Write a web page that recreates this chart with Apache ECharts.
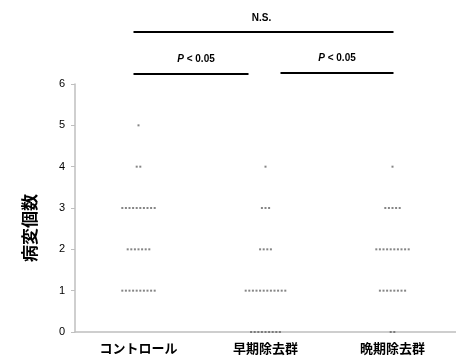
<!DOCTYPE html>
<html><head><meta charset="utf-8">
<script src="https://cdn.jsdelivr.net/npm/echarts@6/dist/echarts.min.js"></script>
<style>html,body{margin:0;padding:0;background:#fff}#c{width:456px;height:357px}</style>
</head><body><div id="c"></div>
<script>
var categories = ['コントロール', '早期除去群', '晩期除去群'];
var yTicks = [0, 1, 2, 3, 4, 5, 6];
var yName = '病変個数';
// number of subjects at each lesion count (0..5) for each group
var countsControl = [0, 10, 7, 10, 2, 1];
var countsEarly   = [9, 12, 4, 3, 1, 0];
var countsLate    = [2, 8, 10, 5, 1, 0];
var groups = [countsControl, countsEarly, countsLate];
var sigLabels = ['N.S.', 'P', 'P'];

var dotStep = 3.6;
var data = [];
groups.forEach(function (counts, gi) {
  counts.forEach(function (n, lesion) {
    for (var i = 0; i < n; i++) {
      data.push({ value: [gi, lesion], symbolOffset: [(i - (n - 1) / 2) * dotStep, 0] });
    }
  });
});

var chart = echarts.init(document.getElementById('c'));
var font = '"Noto Sans CJK JP", "Noto Sans", sans-serif';
chart.setOption({
  animation: false,
  grid: { left: 75, right: -4, top: 84, bottom: 25 },
  xAxis: {
    type: 'category', data: categories,
    axisLine: { lineStyle: { color: '#bfbfbf', width: 1.5 } },
    axisTick: { show: false },
    axisLabel: { color: '#000', fontWeight: 'bold', fontSize: 13, fontFamily: font, margin: 10 }
  },
  yAxis: {
    type: 'value', min: yTicks[0], max: yTicks[yTicks.length - 1], interval: 1,
    splitLine: { show: false },
    axisLine: { show: true, lineStyle: { color: '#bfbfbf', width: 1.5 } },
    axisTick: { show: true, length: 4, lineStyle: { color: '#bfbfbf' } },
    axisLabel: { color: '#000', fontSize: 11, fontFamily: 'Liberation Sans, sans-serif', margin: 10 }
  },
  series: [{
    type: 'scatter', data: data, symbol: 'rect', symbolSize: 2,
    itemStyle: { color: '#666' }
  }]
});

function px(ci) { return chart.convertToPixel({ xAxisIndex: 0 }, categories[ci]); }
var x0 = px(0), x1 = px(1), x2 = px(2);
var lineStyle = { stroke: '#000', lineWidth: 2 };
var pFont = 'italic bold 10px "Liberation Sans", sans-serif';
var tFont = 'bold 10px "Liberation Sans", sans-serif';
chart.setOption({
  graphic: [
    { type: 'text', x: 30, y: 228, rotation: Math.PI / 2, style: { text: yName, font: 'bold 17px "Noto Sans CJK JP", sans-serif', fill: '#000', textAlign: 'center', textVerticalAlign: 'middle' } },
    { type: 'line', shape: { x1: x0 - 5, y1: 32, x2: x2 + 1, y2: 32 }, style: lineStyle },
    { type: 'text', x: (x0 + x2) / 2 - 4, y: 18, style: { text: sigLabels[0], font: tFont, fill: '#000', textAlign: 'center', textVerticalAlign: 'middle' } },
    { type: 'line', shape: { x1: x0 - 5, y1: 74, x2: x1 - 17, y2: 74 }, style: lineStyle },
    { type: 'line', shape: { x1: x1 + 15, y1: 73, x2: x2 + 1, y2: 73 }, style: lineStyle },
    { type: 'text', x: (x0 + x1) / 2 - 6, y: 59, style: { rich: { p: { font: pFont }, t: { font: tFont } }, text: '{p|' + sigLabels[1] + '}{t| < 0.05}', fill: '#000', textAlign: 'center', textVerticalAlign: 'middle' } },
    { type: 'text', x: (x1 + x2) / 2 + 8, y: 58, style: { rich: { p: { font: pFont }, t: { font: tFont } }, text: '{p|' + sigLabels[2] + '}{t| < 0.05}', fill: '#000', textAlign: 'center', textVerticalAlign: 'middle' } }
  ]
});
</script></body></html>
